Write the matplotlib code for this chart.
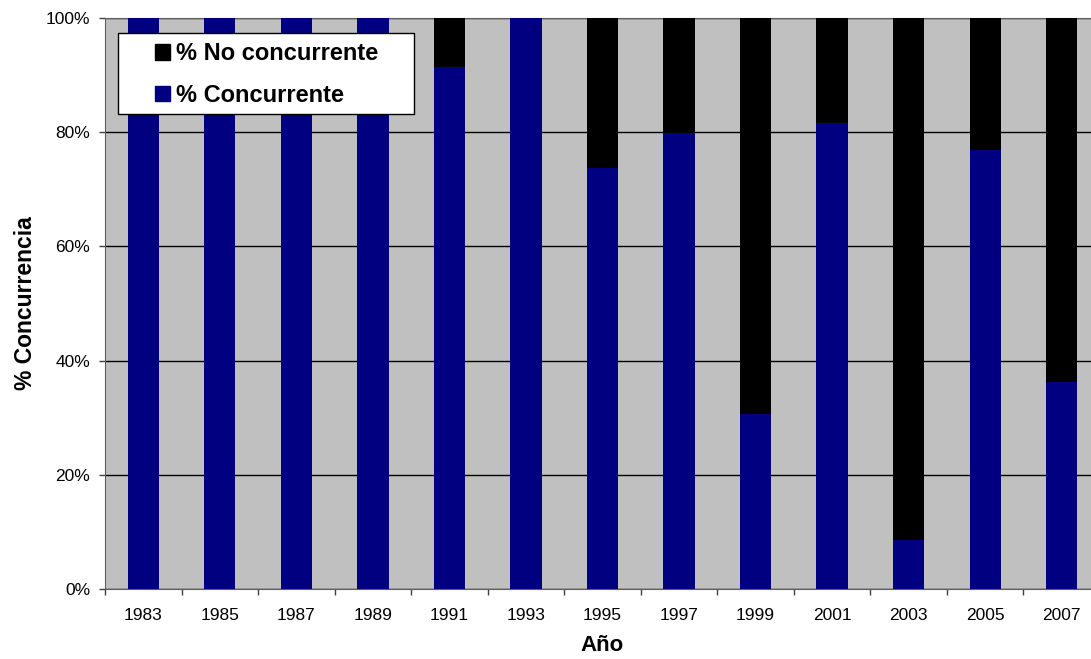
import numpy as np
import matplotlib.pyplot as plt
from matplotlib.patches import Rectangle, Patch
from matplotlib.ticker import FixedLocator, FuncFormatter

plt.rcParams['font.family'] = ['Liberation Sans', 'DejaVu Sans']

# years and share of concurrent elections (%)
years = ['1983', '1985', '1987', '1989', '1991', '1993', '1995',
         '1997', '1999', '2001', '2003', '2005', '2007']
concurrente = [100, 100, 100, 100, 91.4, 100, 73.8, 79.9, 30.6, 81.6, 8.6, 76.9, 36.3]
no_concurrente = [100 - v for v in concurrente]

x = np.arange(len(years))
W, H = 1091, 659

fig = plt.figure(figsize=(W / 100, H / 100), dpi=100)
# plot area runs a little past the right edge of the figure
ax = fig.add_axes([105 / W, 1 - 589 / H, 995 / W, 571 / H])
ax.set_facecolor('#c0c0c0')

ax.bar(x, concurrente, width=0.41, color='#000080', zorder=3)
ax.bar(x, no_concurrente, width=0.41, bottom=concurrente, color='black', zorder=3)

ax.set_xlim(-0.5, len(years) - 0.5)
ax.set_ylim(0, 100)
ax.set_yticks([0, 20, 40, 60, 80, 100])
ax.yaxis.set_major_formatter(FuncFormatter(lambda v, p: f'{v:.0f}%'))
ax.yaxis.grid(True, color='black', linewidth=1, zorder=1)
ax.set_axisbelow(True)

ax.set_xticks(x)
ax.set_xticklabels(years)
ax.xaxis.set_minor_locator(FixedLocator(np.arange(-0.5, len(years), 1.0)))
ax.tick_params(axis='x', which='major', length=0, pad=13.5, labelsize=12.5)
ax.tick_params(axis='x', which='minor', length=4.3, width=1, color='#404040')
ax.tick_params(axis='y', length=4.3, width=1, color='#404040', pad=6.5, labelsize=12.5)

for side in ['left', 'bottom', 'top']:
    ax.spines[side].set_color('#606060')
ax.spines['right'].set_visible(False)

ax.set_xlabel('Año', fontsize=16, fontweight='bold', labelpad=9)
ax.set_ylabel('% Concurrencia', fontsize=16.5, fontweight='bold', labelpad=6)

# legend box drawn separately so the inner padding can be wider at the sides
box = Rectangle((118 / W, 1 - 114 / H), 296 / W, 81 / H, transform=fig.transFigure,
                facecolor='white', edgecolor='black', linewidth=1, zorder=4)
fig.patches.append(box)

handles = [Patch(color='black', label='% No concurrente'),
           Patch(color='#000080', label='% Concurrente')]
leg = fig.legend(handles=handles, loc='upper left',
                 bbox_to_anchor=(155 / W, 1 - 42 / H),
                 prop={'size': 17, 'weight': 'bold'}, frameon=False,
                 handlelength=0.64, handleheight=0.64, handletextpad=0.25,
                 borderpad=0, labelspacing=0.79, borderaxespad=0)
leg.set_zorder(5)

fig.savefig('out.png', dpi=100)
